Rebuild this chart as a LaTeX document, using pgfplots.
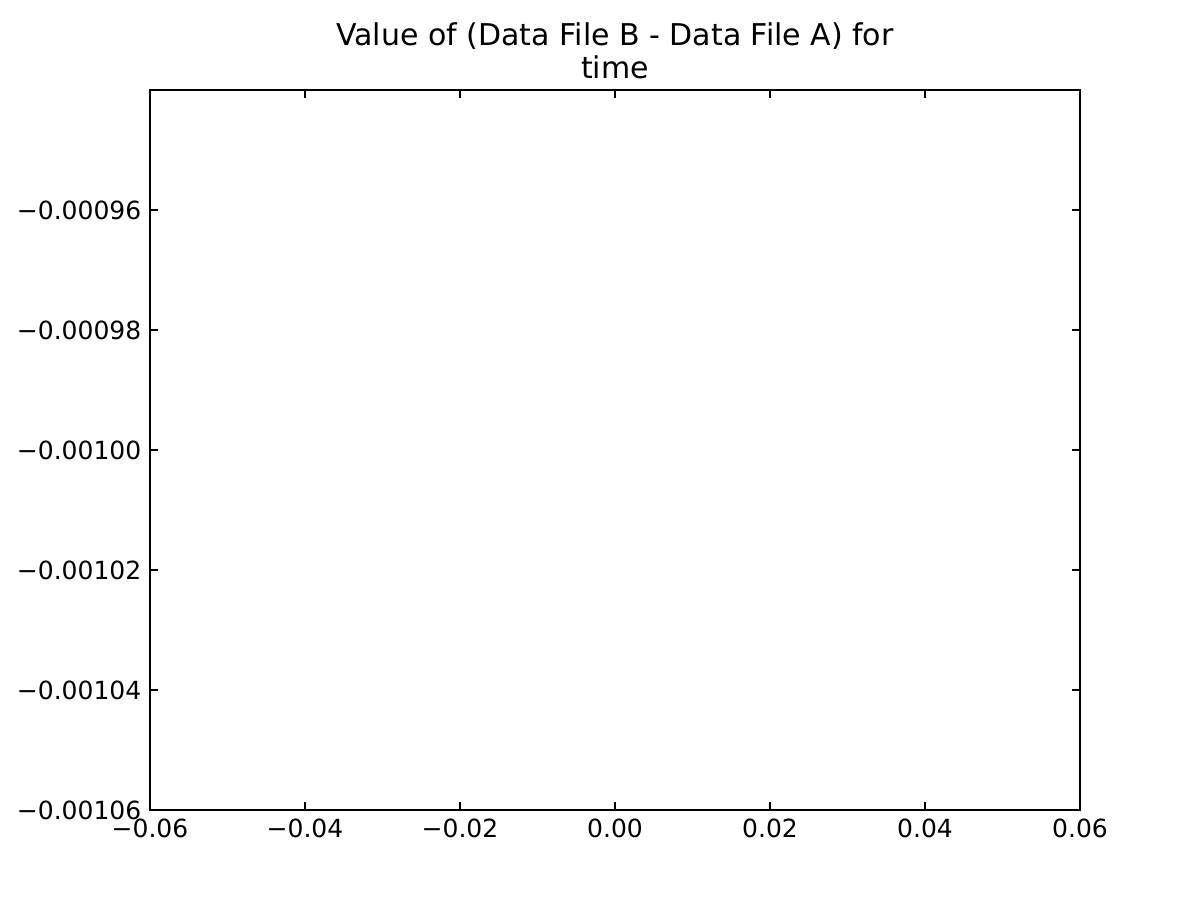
\documentclass[border=0pt]{standalone}
\usepackage{fontspec}
\setmainfont{DejaVu Sans}
\usepackage{pgfplots}
\pgfplotsset{compat=1.18}
\begin{document}
\begin{tikzpicture}
\begin{axis}[
  name=ax,
  scale only axis,
  width=446.4pt, height=345.6pt,
  xmin=-0.06, xmax=0.06,
  ymin=-0.00106, ymax=-0.00094,
  scaled ticks=false,
  xtick={-0.06,-0.04,-0.02,0,0.02,0.04,0.06},
  xticklabels={−0.06,−0.04,−0.02,0.00,0.02,0.04,0.06},
  ytick={-0.00106,-0.00104,-0.00102,-0.00100,-0.00098,-0.00096},
  yticklabels={−0.00106,−0.00104,−0.00102,−0.00100,−0.00098,−0.00096},
  tick align=inside,
  tick pos=both,
  major tick length=4pt,
  every tick/.style={black, line width=0.5pt},
  axis line style={black, line width=1pt},
  ticklabel style={font=\fontsize{12}{14.4}\selectfont},
  xticklabel style={anchor=north, inner sep=0pt, yshift=-4pt},
  yticklabel style={anchor=east, inner sep=0pt, xshift=-4pt},
  title={Value of (Data File B - Data File A) for\\time},
  title style={font=\fontsize{14.4}{16}\selectfont, align=center, inner sep=0pt, anchor=south, at={(0.5,1)}, yshift=-1pt},
]
\end{axis}
\path ([shift={(-72pt,-43.2pt)}]ax.south west) rectangle ([shift={(57.6pt,43.2pt)}]ax.north east);
\end{tikzpicture}
\end{document}
